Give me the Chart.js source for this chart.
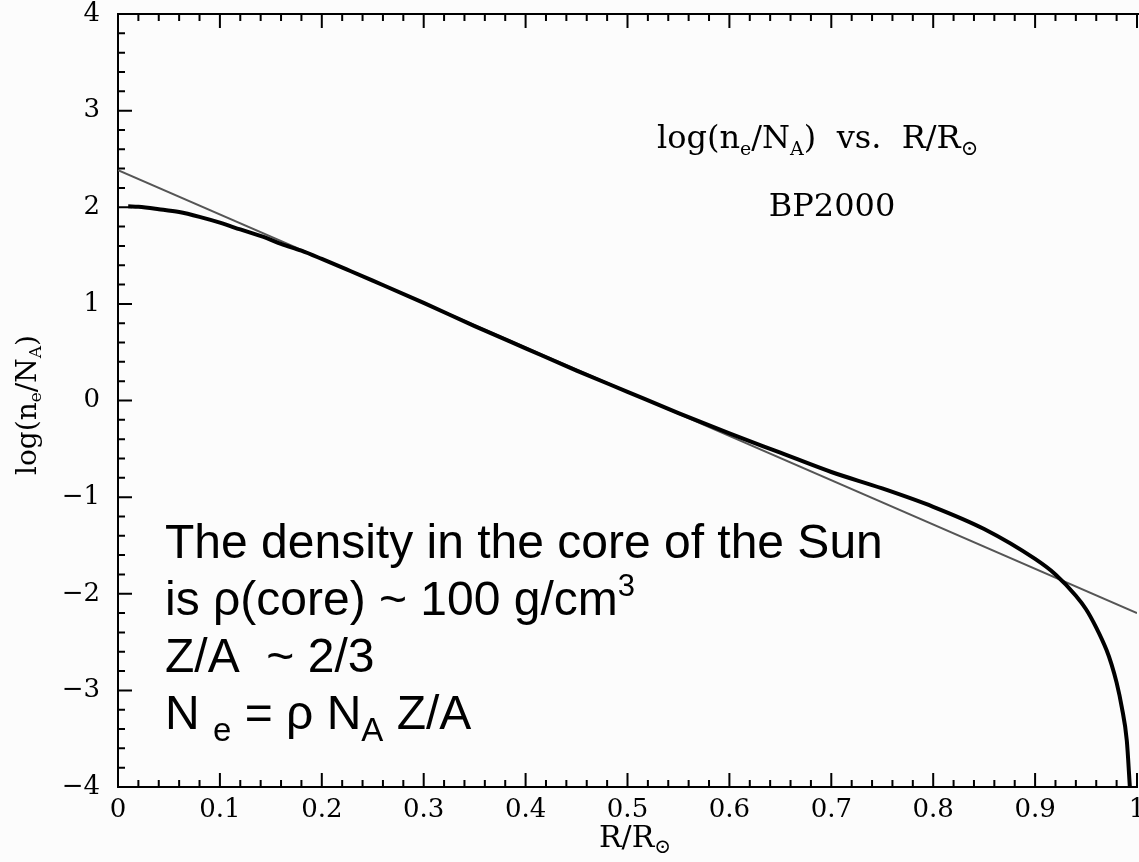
<!DOCTYPE html>
<html>
<head>
<meta charset="utf-8">
<title>log(ne/NA) vs. R/R⊙</title>
<script src="https://cdn.jsdelivr.net/npm/chart.js@4.4.1/dist/chart.umd.min.js"></script>
<style>
  html, body { margin: 0; padding: 0; background: #fcfcfc; }
  #wrap { width: 1139px; height: 862px; position: relative; }
</style>
</head>
<body>
<div id="wrap"><canvas id="myChart"></canvas></div>
<script>
// BP2000 solar model: electron density profile
const radius = [0.01, 0.02, 0.04, 0.06, 0.08, 0.10, 0.12, 0.146, 0.16, 0.18, 0.20, 0.228,
                0.25, 0.30, 0.35, 0.40, 0.45, 0.50, 0.55, 0.60, 0.65, 0.70, 0.75, 0.80,
                0.85, 0.90, 0.92, 0.94, 0.95, 0.96, 0.97, 0.975, 0.98, 0.985, 0.99, 0.993];
const logNe = [2.01, 2.005, 1.98, 1.95, 1.90, 1.84, 1.77, 1.68, 1.62, 1.55, 1.465, 1.34,
               1.24, 1.01, 0.77, 0.54, 0.31, 0.09, -0.13, -0.34, -0.54, -0.74, -0.91, -1.10,
               -1.33, -1.64, -1.80, -2.02, -2.16, -2.35, -2.58, -2.73, -2.92, -3.17, -3.52, -4.0];

// straight-line fit
const fitX = [0, 1];
const fitY = [2.385, -2.2];

const xTicks = [0, 0.1, 0.2, 0.3, 0.4, 0.5, 0.6, 0.7, 0.8, 0.9, 1];
const yTicks = [-4, -3, -2, -1, 0, 1, 2, 3, 4];

const SERIF = '"DejaVu Serif", serif';
const SANS = '"Liberation Sans", Arial, sans-serif';

// draw a row of text pieces, each with its own size and vertical shift
function drawRuns(ctx, x, y, runs, align) {
  let total = 0;
  runs.forEach(r => {
    ctx.font = r.size + 'px ' + r.font;
    r.w = ctx.measureText(r.t).width;
    total += r.w;
  });
  let cx = align === 'center' ? x - total / 2 : x;
  ctx.textAlign = 'left';
  ctx.textBaseline = 'alphabetic';
  runs.forEach(r => {
    ctx.font = r.size + 'px ' + r.font;
    ctx.fillText(r.t, cx, y + (r.dy || 0));
    cx += r.w;
  });
}

const run = (t, size, font, dy) => ({ t: t, size: size, font: font, dy: dy || 0 });

const frame = {
  id: 'frame',
  afterDraw(chart) {
    const ctx = chart.ctx;
    const a = chart.chartArea;
    const xs = chart.scales.x;
    const ys = chart.scales.y;
    ctx.save();
    ctx.strokeStyle = '#000';
    ctx.lineWidth = 2;

    // top border
    ctx.beginPath();
    ctx.moveTo(a.left, a.top);
    ctx.lineTo(chart.width, a.top);
    ctx.stroke();

    // tick marks pointing into the plot
    ctx.beginPath();
    for (let i = 0; i <= 50; i++) {
      const px = xs.getPixelForValue(i * 0.02);
      const len = i % 5 === 0 ? 14 : 7;
      ctx.moveTo(px, a.bottom); ctx.lineTo(px, a.bottom - len);
      ctx.moveTo(px, a.top); ctx.lineTo(px, a.top + len);
    }
    for (let i = 0; i <= 40; i++) {
      const py = ys.getPixelForValue(-4 + i * 0.2);
      const len = i % 5 === 0 ? 14 : 7;
      ctx.moveTo(a.left, py); ctx.lineTo(a.left + len, py);
    }
    ctx.stroke();

    ctx.fillStyle = '#000';
    // axis titles
    drawRuns(ctx, 635, 847, [
      run('R/R', 30, SERIF), run('\u2299', 20, SERIF, 6)
    ], 'center');

    ctx.save();
    ctx.translate(36, 405);
    ctx.rotate(-Math.PI / 2);
    drawRuns(ctx, 0, 0, [
      run('log(n', 28, SERIF), run('e', 17, SERIF, 5),
      run('/N', 28, SERIF), run('A', 17, SERIF, 5), run(')', 28, SERIF)
    ], 'center');
    ctx.restore();

    // plot labels
    drawRuns(ctx, 657, 148, [
      run('log(n', 32, SERIF), run('e', 19, SERIF, 7),
      run('/N', 32, SERIF), run('A', 19, SERIF, 7),
      run(')  vs.  R/R', 32, SERIF), run('\u2299', 21, SERIF, 7)
    ], 'left');
    drawRuns(ctx, 832, 216, [run('BP2000', 32, SERIF)], 'center');

    // note on the core density
    const lx = 165;
    drawRuns(ctx, lx, 558, [run('The density in the core of the Sun', 48, SANS)], 'left');
    drawRuns(ctx, lx, 615, [
      run('is \u03c1(core) ~ 100 g/cm', 48, SANS), run('3', 31, SANS, -19)
    ], 'left');
    drawRuns(ctx, lx, 672, [run('Z/A  ~ 2/3', 48, SANS)], 'left');
    drawRuns(ctx, lx, 729, [
      run('N ', 48, SANS), run('e', 33, SANS, 12),
      run(' = \u03c1 N', 48, SANS), run('A', 33, SANS, 12), run(' Z/A', 48, SANS)
    ], 'left');
    ctx.restore();
  }
};

const profile = radius.map((r, i) => ({ x: r, y: logNe[i] }));
const fit = fitX.map((r, i) => ({ x: r, y: fitY[i] }));

const ctx = document.getElementById('myChart');
const myChart = new Chart(ctx, {
  type: 'scatter',
  data: {
    datasets: [{
      label: 'BP2000',
      data: profile,
      showLine: true,
      borderColor: '#000',
      borderWidth: 4,
      pointRadius: 0,
      cubicInterpolationMode: 'monotone',
      fill: false
    }, {
      label: 'fit',
      data: fit,
      showLine: true,
      borderColor: '#555',
      borderWidth: 2,
      pointRadius: 0,
      fill: false
    }]
  },
  options: {
    responsive: true,
    maintainAspectRatio: false,
    animation: false,
    layout: { padding: { left: 0, top: 14, right: 2, bottom: 0 } },
    plugins: {
      legend: { display: false },
      tooltip: { enabled: false }
    },
    scales: {
      x: {
        type: 'linear',
        min: 0,
        max: 1,
        afterBuildTicks: scale => { scale.ticks = xTicks.map(v => ({ value: v })); },
        afterFit: scale => {
          scale.height = 75;
          scale.paddingLeft = 0;
          scale.paddingRight = 0;
        },
        grid: { display: true, drawOnChartArea: false, drawTicks: false },
        border: { display: true, color: '#000', width: 2 },
        ticks: {
          padding: 8,
          maxRotation: 0,
          autoSkip: false,
          color: '#000',
          font: { family: SERIF, size: 26 },
          callback: v => (v === 0 || v === 1) ? String(v) : v.toFixed(1)
        }
      },
      y: {
        type: 'linear',
        min: -4,
        max: 4,
        afterBuildTicks: scale => { scale.ticks = yTicks.map(v => ({ value: v })); },
        afterFit: scale => {
          scale.width = 118;
          scale.paddingTop = 0;
          scale.paddingBottom = 0;
        },
        grid: { display: true, drawOnChartArea: false, drawTicks: false },
        border: { display: true, color: '#000', width: 2 },
        ticks: {
          padding: 18,
          autoSkip: false,
          color: '#000',
          font: { family: SERIF, size: 26 },
          callback: v => v < 0 ? '\u2212' + Math.abs(v) : String(v)
        }
      }
    }
  },
  plugins: [frame]
});
</script>
</body>
</html>
